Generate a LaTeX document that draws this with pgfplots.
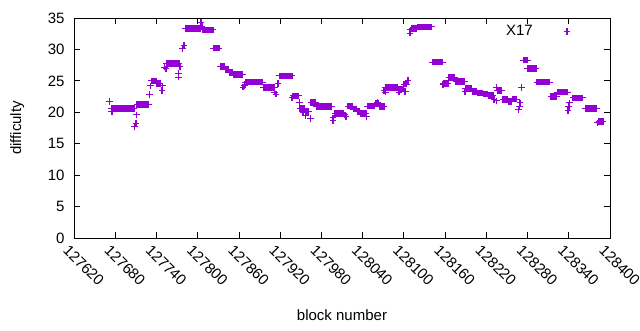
\documentclass[border=0pt]{standalone}
\usepackage{fontspec}
\setmainfont{Liberation Sans}
\usepackage{pgfplots}
\pgfplotsset{compat=1.18}
\usetikzlibrary{calc}
\definecolor{dv}{HTML}{9400D3}
\pgfdeclareplotmark{vplus}{%
  \pgfsetlinewidth{1.5pt}%
  \pgfpathmoveto{\pgfqpoint{0pt}{-\pgfplotmarksize}}%
  \pgfpathlineto{\pgfqpoint{0pt}{\pgfplotmarksize}}%
  \pgfusepathqstroke
  \pgfsetlinewidth{1pt}%
  \pgfpathmoveto{\pgfqpoint{-\pgfplotmarksize}{0pt}}%
  \pgfpathlineto{\pgfqpoint{\pgfplotmarksize}{0pt}}%
  \pgfusepathqstroke
}
\begin{document}
\begin{tikzpicture}[font=\fontsize{15}{18}\selectfont]
\begin{axis}[
  scale only axis, width=536pt, height=220pt,
  xmin=127620, xmax=128400, ymin=0, ymax=35,
  xtick={127620,127680,...,128400},
  ytick={0,5,...,35},
  xtick pos=both, ytick pos=both,
  xticklabel pos=lower, yticklabel pos=left,
  tick align=inside, major tick length=6pt,
  axis line style={line width=0.8pt, black},
  every tick/.style={line width=0.8pt, black},
  scaled x ticks=false,
  /pgf/number format/assume math mode=true,
  x tick label style={/pgf/number format/fixed, /pgf/number format/precision=0, /pgf/number format/1000 sep={}, rotate=-45, anchor=north west, inner sep=0pt, yshift=-7pt, xshift=1pt},
  y tick label style={anchor=east, xshift=-6pt},
  xlabel={block number}, ylabel={difficulty},
  xlabel style={at={(axis description cs:0.5,-0.35)}, anchor=center},
  ylabel style={at={(axis description cs:-0.106,0.5)}, anchor=center, rotate=0},
  legend plot pos=right,
  legend image code/.code={\path[draw=none,fill=none] (0pt,-3pt) rectangle (38pt,3pt); \draw[mark repeat=2,mark phase=2] plot coordinates {(0pt,0pt)(32pt,0pt)(38pt,0pt)};},
  legend style={draw=none, fill=none, at={(0.9366,0.94)}, anchor=east, font=\fontsize{15}{18}\selectfont},
]
\addplot[only marks, mark=vplus, mark size=3.3pt, color=dv] coordinates {
(127672,21.7)(127675,20.1)
(127675,20.6)(127677,20.6)(127679,20.6)(127681,20.6)(127683,20.6)(127685,20.6)(127687,20.6)(127689,20.6)(127691,20.6)(127693,20.6)(127695,20.6)(127697,20.6)(127699,20.6)(127701,20.6)(127703,20.6)(127705,20.6)(127707,20.6)
(127708,17.7)(127710,18.2)(127711,19.6)
(127712,21.2)(127714,21.2)(127716,21.2)(127718,21.2)(127720,21.2)(127722,21.2)(127724,21.2)(127726,21.2)(127728,21.2)
(127730,22.8)(127731,24.2)
(127733,25.0)(127735,25.0)(127737,25.0)(127739,25.0)
(127741,24.6)(127743,24.6)(127745,24.6)
(127748,23.5)(127749,24.2)(127752,27.2)(127754,26.9)
(127755,27.8)(127757,27.8)(127759,27.8)(127761,27.8)(127763,27.8)(127765,27.8)(127767,27.8)(127769,27.8)(127771,27.8)(127773,27.8)
(127772,26.2)(127772,25.6)(127774,27.3)(127778,30.1)(127780,30.7)
(127782,33.3)(127784,33.3)(127786,33.3)(127788,33.3)(127790,33.3)(127792,33.3)(127794,33.3)(127796,33.3)(127798,33.3)(127800,33.3)(127802,33.3)(127804,33.3)
(127805,34.3)(127806,33.7)
(127808,33.1)(127810,33.1)(127812,33.1)(127814,33.1)(127816,33.1)(127818,33.1)(127820,33.1)(127822,33.1)
(127823,30.2)(127825,30.2)(127827,30.2)(127829,30.2)(127831,30.2)
(127833,27.3)(127835,27.3)(127837,27.3)(127839,27.3)
(127841,26.8)(127843,26.8)(127845,26.8)
(127847,26.3)(127849,26.3)(127851,26.3)
(127853,26.0)(127855,26.0)(127857,26.0)(127859,26.0)(127861,26.0)(127863,26.0)(127865,26.0)
(127866,24.0)(127868,24.3)(127869,24.5)
(127870,24.8)(127872,24.8)(127874,24.8)(127876,24.8)(127878,24.8)(127880,24.8)(127882,24.8)(127884,24.8)(127886,24.8)(127888,24.8)(127890,24.8)(127892,24.8)(127894,24.8)
(127896,23.9)(127898,23.9)(127900,23.9)(127902,23.9)(127904,23.9)(127906,23.9)(127908,23.9)(127910,23.9)(127912,23.9)
(127912,23.2)(127914,22.9)(127917,24.6)
(127919,25.8)(127921,25.8)(127923,25.8)(127925,25.8)(127927,25.8)(127929,25.8)(127931,25.8)(127933,25.8)(127935,25.8)(127937,25.8)
(127937,22.3)
(127939,22.6)(127941,22.6)(127943,22.6)(127945,22.6)(127947,22.6)
(127948,21.6)
(127949,20.6)(127951,20.6)(127953,20.6)(127955,20.6)(127953,20.0)
(127957,20.1)(127959,20.1)(127961,20.1)(127957,19.5)
(127964,19.0)
(127965,21.6)(127967,21.6)(127969,21.6)(127971,21.6)
(127973,20.9)(127975,20.9)(127977,20.9)(127979,20.9)(127981,20.9)(127983,20.9)(127985,20.9)(127987,20.9)(127989,20.9)(127991,20.9)(127993,20.9)(127995,20.9)
(127997,18.7)(127997,19.1)
(128000,19.8)(128002,19.8)(128004,19.8)(128006,19.8)(128008,19.8)(128010,19.8)(128012,19.8)
(128014,19.6)(128016,19.3)
(128019,21.0)(128021,21.0)(128023,21.0)(128025,21.0)
(128027,20.5)(128029,20.5)(128031,20.5)
(128033,20.1)(128035,20.1)
(128037,19.8)(128039,19.8)(128041,19.8)(128043,19.8)(128045,19.8)(128046,19.3)
(128047,21.0)(128049,21.0)(128051,21.0)(128053,21.0)(128055,21.0)(128057,21.0)
(128059,21.4)(128061,21.4)(128063,21.4)(128062,21.6)
(128065,20.9)(128067,20.9)(128069,20.9)(128071,20.9)
(128071,23.5)(128073,23.2)
(128073,23.9)(128075,23.9)(128077,23.9)(128079,23.9)(128081,23.9)(128083,23.9)(128085,23.9)(128087,23.9)(128089,23.9)(128091,23.9)
(128093,23.7)(128095,23.7)(128097,23.7)(128099,23.7)(128093,23.2)
(128100,24.5)(128102,24.5)(128104,24.5)(128102,23.3)(128106,25.1)
(128109,32.6)(128110,33.1)
(128112,33.3)(128114,33.3)(128116,33.3)(128118,33.3)
(128120,33.6)(128122,33.6)(128124,33.6)(128126,33.6)(128128,33.6)(128130,33.6)(128132,33.6)(128134,33.6)(128136,33.6)(128138,33.6)(128140,33.6)
(128142,28.0)(128144,28.0)(128146,28.0)(128148,28.0)(128150,28.0)(128152,28.0)(128154,28.0)(128156,28.0)
(128157,24.4)(128158,24.6)(128160,24.6)(128162,24.6)(128164,24.6)
(128166,25.5)(128168,25.5)(128170,25.5)(128172,25.5)(128174,25.5)
(128176,24.9)(128178,24.9)(128180,24.9)(128182,24.9)(128184,24.9)(128186,24.9)(128188,24.9)
(128189,23.3)(128190,23.8)(128192,23.8)(128194,23.8)(128196,23.8)(128198,23.8)
(128200,23.3)(128202,23.3)(128204,23.3)(128206,23.3)
(128208,23.1)(128210,23.1)(128212,23.1)(128214,23.1)
(128216,22.9)(128218,22.9)(128220,22.9)(128222,22.9)
(128224,22.7)(128226,22.7)(128228,22.7)(128230,22.7)
(128231,22.0)(128235,23.9)(128235,21.8)
(128236,23.5)(128238,23.5)(128240,23.5)(128242,23.5)
(128244,22.0)(128246,22.0)(128248,22.0)(128250,22.0)
(128252,21.7)(128254,21.7)(128256,21.7)
(128258,22.1)(128260,22.1)(128262,22.1)(128264,22.1)
(128267,20.4)(128268,21.0)(128269,21.5)(128271,23.9)
(128274,28.3)(128276,28.3)(128278,28.3)(128280,28.3)(128280,27.0)
(128282,27.0)(128284,27.0)(128286,27.0)(128288,27.0)(128290,27.0)(128292,27.0)
(128294,24.8)(128296,24.8)(128298,24.8)(128300,24.8)(128302,24.8)(128304,24.8)(128306,24.8)(128308,24.8)(128310,24.8)(128312,24.8)
(128314,22.5)(128316,22.5)(128318,22.5)(128320,22.5)(128322,22.5)
(128324,23.2)(128326,23.2)(128328,23.2)(128330,23.2)(128332,23.2)(128334,23.2)(128336,23.2)(128338,23.2)
(128339,20.3)(128340,20.9)(128341,21.5)
(128346,22.3)(128348,22.3)(128350,22.3)(128352,22.3)(128354,22.3)(128356,22.3)(128358,22.3)(128360,22.3)
(128364,20.6)(128366,20.6)(128368,20.6)(128370,20.6)(128372,20.6)(128374,20.6)(128376,20.6)(128378,20.6)(128380,20.6)
(128382,18.3)(128384,18.5)(128386,18.5)(128388,18.5)(128390,18.5)
};
\addlegendentry{X17}
\end{axis}
\pgfresetboundingbox
\path ($(current axis.south west)+(-74pt,-92pt)$) rectangle ($(current axis.north east)+(30pt,18pt)$);
\end{tikzpicture}
\end{document}
